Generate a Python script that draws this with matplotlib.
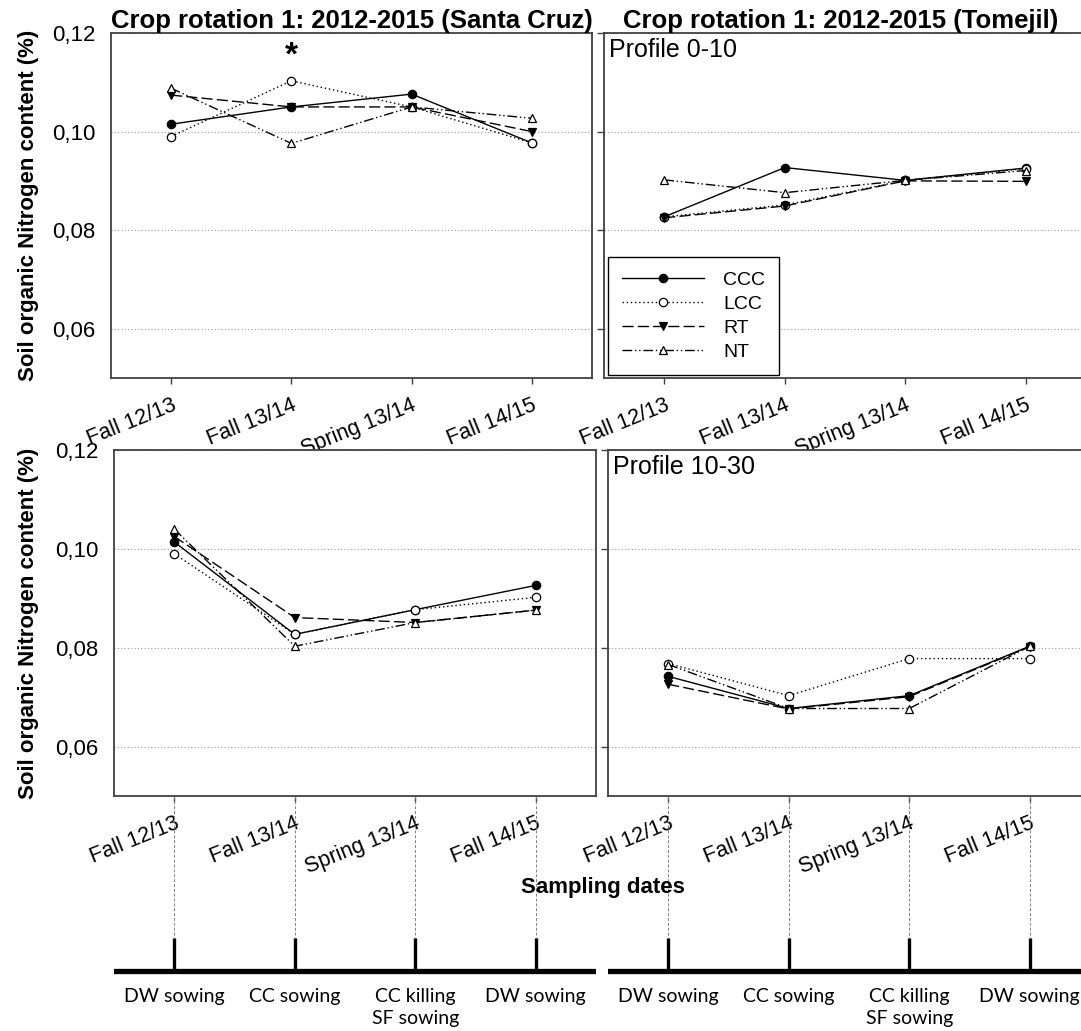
import matplotlib
matplotlib.use("Agg")
import matplotlib.pyplot as plt
from matplotlib.ticker import FuncFormatter

# sampling dates and field operations
dates = ["Fall 12/13", "Fall 13/14", "Spring 13/14", "Fall 14/15"]
events = ["DW sowing", "CC sowing", "CC killing\nSF sowing", "DW sowing"]
treatments = ["CCC", "LCC", "RT", "NT"]
yticks = [0.06, 0.08, 0.10, 0.12]

# Santa Cruz, profile 0-10
sc_top_ccc = [0.1015, 0.1050, 0.1076, 0.0977]
sc_top_lcc = [0.0990, 0.1103, 0.1050, 0.0977]
sc_top_rt = [0.1074, 0.1050, 0.1050, 0.1000]
sc_top_nt = [0.1088, 0.0976, 0.1050, 0.1027]

# Tomejil, profile 0-10
tj_top_ccc = [0.0827, 0.0927, 0.0901, 0.0926]
tj_top_lcc = [0.0827, 0.0851, 0.0901, 0.0925]
tj_top_rt = [0.0825, 0.0849, 0.0900, 0.0899]
tj_top_nt = [0.0902, 0.0876, 0.0901, 0.0921]

# Santa Cruz, profile 10-30
sc_bot_ccc = [0.1014, 0.0827, 0.0877, 0.0926]
sc_bot_lcc = [0.0990, 0.0827, 0.0877, 0.0902]
sc_bot_rt = [0.1025, 0.0861, 0.0851, 0.0876]
sc_bot_nt = [0.1040, 0.0803, 0.0851, 0.0876]

# Tomejil, profile 10-30
tj_bot_ccc = [0.0742, 0.0677, 0.0703, 0.0803]
tj_bot_lcc = [0.0768, 0.0703, 0.0778, 0.0778]
tj_bot_rt = [0.0726, 0.0676, 0.0701, 0.0802]
tj_bot_nt = [0.0766, 0.0677, 0.0677, 0.0803]

plt.rcParams["font.family"] = ["Liberation Sans", "DejaVu Sans"]

W, H = 1081, 1031
fig = plt.figure(figsize=(W / 100, H / 100), dpi=100)


def box(l, t, r, b):
    return [l / W, 1 - b / H, (r - l) / W, (b - t) / H]


styles = {
    "CCC": dict(ls="-", marker="o", mfc="black"),
    "LCC": dict(ls=(0, (1, 2)), marker="o", mfc="white"),
    "RT": dict(ls=(0, (8, 3)), marker="v", mfc="black"),
    "NT": dict(ls=(0, (7, 2, 1, 2, 1, 2)), marker="^", mfc="white"),
}

x = [1, 2, 3, 4]
comma = FuncFormatter(lambda v, p: f"{v:.2f}".replace(".", ","))


def panel(rect, series, left_side):
    ax = fig.add_axes(rect)
    for name, vals in zip(treatments, series):
        st = styles[name]
        ax.plot(x, vals, color="black", lw=1.0, ls=st["ls"], marker=st["marker"],
                ms=6, mfc=st["mfc"], mec="black", mew=0.9, label=name, zorder=3)
    ax.set_xlim(0.5, 4.5)
    ax.set_ylim(0.05, 0.12)
    ax.set_yticks(yticks)
    ax.set_xticks(x)
    ax.set_xticklabels(dates, rotation=22, ha="right", rotation_mode="anchor", fontsize=15.5)
    ax.tick_params(axis="x", length=4, width=1, pad=8, color="#404040")
    ax.grid(axis="y", ls=(0, (1, 2)), color="#9a9a9a", lw=0.8)
    ax.set_axisbelow(True)
    for s in ax.spines.values():
        s.set_color("#404040")
        s.set_linewidth(1.3)
    if left_side:
        ax.yaxis.set_major_formatter(comma)
        ax.tick_params(axis="y", length=0, pad=11, labelsize=16)
    else:
        ax.tick_params(axis="y", length=5, width=1, color="#404040", labelleft=False)
    return ax


ax1 = panel(box(111, 33, 592, 378), [sc_top_ccc, sc_top_lcc, sc_top_rt, sc_top_nt], True)
ax2 = panel(box(604, 33, 1086, 378), [tj_top_ccc, tj_top_lcc, tj_top_rt, tj_top_nt], False)
ax3 = panel(box(114, 450, 596, 796), [sc_bot_ccc, sc_bot_lcc, sc_bot_rt, sc_bot_nt], True)
ax4 = panel(box(608, 450, 1090, 796), [tj_bot_ccc, tj_bot_lcc, tj_bot_rt, tj_bot_nt], False)

ax1.set_title("Crop rotation 1: 2012-2015 (Santa Cruz)", fontsize=18.5, fontweight="bold", pad=3)
ax2.set_title("Crop rotation 1: 2012-2015 (Tomejil)", fontsize=18.5, fontweight="bold", pad=3,
              x=0.49)
ax1.text(2, 0.1153, "*", fontsize=24, fontweight="bold", ha="center", va="center")
ax2.text(0.01, 0.985, "Profile 0-10", transform=ax2.transAxes, fontsize=18, va="top", ha="left")
ax4.text(0.01, 0.985, "Profile 10-30", transform=ax4.transAxes, fontsize=18, va="top", ha="left")

for ax in (ax1, ax3):
    pos = ax.get_position()
    fig.text(29 / W, pos.y0 + pos.height / 2, "Soil organic Nitrogen content (%)",
             rotation=90, ha="center", va="center", fontsize=16, fontweight="bold")

leg = ax2.legend(loc="lower left", bbox_to_anchor=(4 / 482, 3 / 345), borderaxespad=0,
                 fontsize=14, handlelength=4.2, handletextpad=1.0, labelspacing=0.33,
                 borderpad=0.72, numpoints=1, fancybox=False, framealpha=1)
leg.get_frame().set_edgecolor("black")
leg.get_frame().set_linewidth(1.0)

fig.text(603 / W, 1 - 888 / H, "Sampling dates", ha="center", va="center",
         fontsize=16, fontweight="bold")

# timeline of field operations under the lower panels
for ax in (ax3, ax4):
    pos = ax.get_position()
    tl = fig.add_axes([pos.x0, 0, pos.width, pos.y0])
    tl.set_xlim(0.5, 4.5)
    tl.set_ylim(H - 796, 0)
    tl.axis("off")
    tl.vlines(x, 0, 142, color="#808080", lw=0.7, ls=(0, (3, 2)))
    tl.vlines(x, 142, 175, color="black", lw=2.4)
    tl.axhline(175, color="black", lw=3.8)
    for xi, ev in zip(x, events):
        tl.text(xi, 192, ev, ha="center", va="top", fontsize=14, family="Lato",
                linespacing=1.35)

fig.savefig("out.png", dpi=100)
